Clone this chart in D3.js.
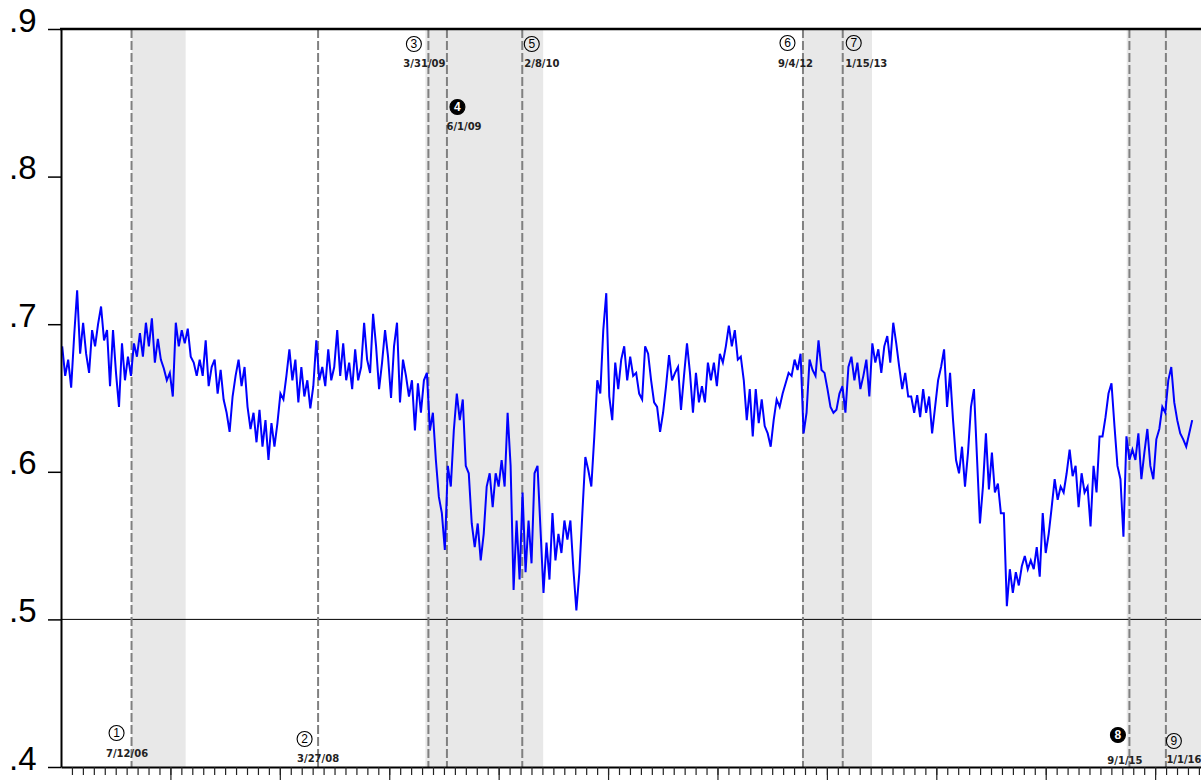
<!DOCTYPE html>
<html lang="en">
<head>
<meta charset="UTF-8">
<title>Daily series with event dates</title>
<script src="https://cdn.jsdelivr.net/npm/d3@7"></script>
<style>
  body { margin: 0; background: #fff; }
  svg { display: block; }
</style>
</head>
<body>
<script>
// series: one reading every 10 days from the first date
const firstDate = "2005-11-22";
const stepDays = 10;
const values = [
  .685,.665,.676,.657,.692,.723,.680,.701,.680,.667,
  .696,.685,.700,.712,.689,.696,.658,.696,.667,.644,
  .687,.662,.678,.665,.687,.678,.694,.678,.701,.685,
  .704,.674,.690,.676,.670,.662,.667,.651,.701,.685,
  .696,.687,.697,.678,.674,.665,.676,.665,.689,.658,
  .671,.676,.653,.669,.649,.640,.627,.651,.665,.676,
  .658,.671,.644,.629,.640,.620,.642,.617,.635,.608,
  .633,.617,.633,.653,.649,.665,.683,.662,.676,.647,
  .671,.651,.662,.643,.658,.689,.662,.671,.658,.683,
  .662,.671,.696,.665,
  .687,.662,.674,.656,.683,.662,.671,.701,.676,.667,
  .707,.685,.656,.674,.696,.678,.650,.685,.701,.647,
  .676,.665,.651,.662,.628,.660,.640,.662,.667,.628,
  .640,.608,.583,.572,.547,.604,.590,.628,.653,.635,
  .649,.604,.599,.565,.549,.565,.540,.558,.590,.599,
  .576,.599,.590,.608,.590,.640,.604,.520,.567,.527,
  .586,.532,.567,.538,.599,.604,.561,.518,.552,.527,
  .572,.540,.558,.545,.567,.554,.567,.534,.506,.532,
  .572,.610,.601,.590,.624,.662,.653,.696,.721,.651,
  .635,.674,.656,.676,
  .685,.662,.678,.665,.667,.653,.649,.685,.680,.662,
  .647,.644,.627,.640,.658,.679,.662,.667,.671,.642,
  .665,.687,.667,.640,.667,.647,.658,.647,.674,.662,
  .674,.658,.680,.674,.685,.699,.685,.696,.676,.678,
  .662,.635,.656,.624,.656,.633,.649,.631,.626,.617,
  .635,.649,.644,.653,.660,.667,.665,.676,.669,.680,
  .626,.640,.676,.669,.665,.689,.669,.667,.656,.644,
  .640,.642,.653,.658,.640,.671,.678,.662,.674,.656,
  .665,.676,.651,.687,.674,.683,.667,.685,.692,.674,
  .701,.687,.671,.656,.667,.651,
  .651,.640,.652,.637,.656,.640,.651,.626,.644,.662,
  .671,.683,.644,.667,.635,.608,.599,.617,.590,.613,
  .644,.656,.610,.565,.590,.626,.588,.613,.586,.592,
  .572,.572,.509,.534,.518,.532,.523,.536,.543,.534,
  .540,.534,.549,.529,.572,.545,.558,.576,.595,.581,
  .590,.586,.599,.615,.597,.604,.576,.599,.586,.590,
  .563,.604,.586,.624,.624,.637,.653,.660,.631,.604,
  .595,.556,.624,.608,.615,.608,.626,.595,.613,.629,
  .604,.595,.622,.629,.644,.640,.662,.671,.647,.635,
  .626,.622,.617,.626,.635
];

// numbered events
const eventDates = ["2006-07-12","2008-03-27","2009-03-31","2009-06-01","2010-02-08",
                    "2012-09-04","2013-01-15","2015-09-01","2016-01-01"];
const eventLabels = ["7/12/06","3/27/08","3/31/09","6/1/09","2/8/10","9/4/12","1/15/13","9/1/15","1/1/16"];
const eventNumbers = [1, 2, 3, 4, 5, 6, 7, 8, 9];
const eventFilled = [false, false, false, true, false, false, false, true, false];

// shaded periods
const shadeStarts = ["2006-07-12","2009-03-21","2012-09-01","2015-08-23"];
const shadeEnds   = ["2007-01-09","2010-04-19","2013-04-23","2016-06-30"];

const yTicks = [0.4, 0.5, 0.6, 0.7, 0.8, 0.9];
const refLevel = 0.5;

// x ticks: ten per year, a long one every tenth
const tickOrigin = "2005-11-18";
const tickStepDays = 36.6;

const w = 1201, h = 780;
const plotTop = 29, plotBottom = 767, plotLeft = 61;
const parse = d3.timeParse("%Y-%m-%d");
const dayMs = 864e5;

const x = d3.scaleTime()
  .domain([parse("2005-11-18"), parse("2016-06-30")])
  .range([plotLeft, 1220]);
const y = d3.scaleLinear().domain([0.4, 0.9]).range([plotBottom, plotTop]);

const start = parse(firstDate);
const series = values.map((v, i) => ({ date: new Date(+start + i * stepDays * dayMs), v }));

const svg = d3.select("body").append("svg")
  .attr("width", w)
  .attr("height", h);

// shading
svg.selectAll("rect.shade")
  .data(shadeStarts)
  .enter()
  .append("rect")
  .attr("class", "shade")
  .attr("x", d => x(parse(d)))
  .attr("y", plotTop)
  .attr("width", (d, i) => x(parse(shadeEnds[i])) - x(parse(d)))
  .attr("height", plotBottom - plotTop)
  .attr("fill", "#e8e8e8");

// reference line at .5
svg.append("line")
  .attr("x1", plotLeft).attr("x2", w)
  .attr("y1", y(refLevel)).attr("y2", y(refLevel))
  .attr("stroke", "#000")
  .attr("stroke-width", 1);

// event lines
svg.selectAll("line.event")
  .data(eventDates)
  .enter()
  .append("line")
  .attr("class", "event")
  .attr("x1", d => x(parse(d))).attr("x2", d => x(parse(d)))
  .attr("y1", plotTop).attr("y2", plotBottom)
  .attr("stroke", "#808080")
  .attr("stroke-width", 2)
  .attr("stroke-dasharray", "9,3");

// the series
const line = d3.line()
  .x(d => x(d.date))
  .y(d => y(d.v));

svg.append("path")
  .datum(series)
  .attr("d", line)
  .attr("fill", "none")
  .attr("stroke", "#0000ff")
  .attr("stroke-width", 2)
  .attr("stroke-linejoin", "miter");

// axes
const yAxis = d3.axisLeft(y)
  .tickValues(yTicks)
  .tickSize(13)
  .tickSizeOuter(0)
  .tickPadding(11.5)
  .tickFormat(d => d3.format(".1f")(d).replace(/^0/, ""));

const gy = svg.append("g")
  .attr("transform", `translate(${plotLeft},0)`)
  .call(yAxis);
gy.select(".domain").attr("stroke-width", 2);
gy.selectAll(".tick line").attr("stroke-width", 1.5);
gy.selectAll(".tick text")
  .attr("dy", 2)
  .attr("font-family", "'Liberation Sans', Arial, sans-serif")
  .attr("font-size", 33)
  .attr("fill", "#000");

const tickDates = d3.range(1, 106)
  .map(k => new Date(+parse(tickOrigin) + k * tickStepDays * dayMs))
  .filter(d => x(d) < w);

const xMinor = d3.axisBottom(x).tickValues(tickDates).tickSize(8).tickSizeOuter(0).tickFormat("");
const xMajor = d3.axisBottom(x)
  .tickValues(tickDates.filter((d, k) => (k + 1) % 10 === 0))
  .tickSize(14).tickSizeOuter(0).tickFormat("");

const gx = svg.append("g").attr("transform", `translate(0,${plotBottom})`).call(xMinor);
gx.select(".domain").attr("stroke-width", 2);
gx.selectAll(".tick line").attr("stroke", "#222").attr("stroke-width", 1.2);
const gx2 = svg.append("g").attr("transform", `translate(0,${plotBottom})`).call(xMajor);
gx2.select(".domain").remove();
gx2.selectAll(".tick line").attr("stroke", "#222").attr("stroke-width", 1.2);

// top frame line
svg.append("line")
  .attr("x1", plotLeft - 1).attr("x2", w)
  .attr("y1", plotTop).attr("y2", plotTop)
  .attr("stroke", "#000")
  .attr("stroke-width", 2.5);

// event labels: circle offset from the line, circle y, date offset, date y, anchor
const labelLayout = [
  { cx: -15,   cy: 733, tx: -4.5, ty: 757, anchor: "middle" },
  { cx: -13.5, cy: 739, tx: 0,    ty: 762, anchor: "middle" },
  { cx: -14.5, cy: 44,  tx: -4,   ty: 67,  anchor: "middle" },
  { cx: 10.5,  cy: 107, tx: -0.5, ty: 130, anchor: "start" },
  { cx: 9.5,   cy: 44,  tx: 2,    ty: 67,  anchor: "start" },
  { cx: -15.5, cy: 43,  tx: -7.5, ty: 67,  anchor: "middle" },
  { cx: 11,    cy: 43,  tx: 2.5,  ty: 67,  anchor: "start" },
  { cx: -11.5, cy: 735, tx: -4.5, ty: 764, anchor: "middle" },
  { cx: 8,     cy: 741, tx: 0.5,  ty: 763, anchor: "start" }
];

const labels = svg.selectAll("g.evlabel")
  .data(eventDates)
  .enter()
  .append("g")
  .attr("class", "evlabel")
  .attr("transform", d => `translate(${x(parse(d))},0)`);

labels.append("circle")
  .attr("cx", (d, i) => labelLayout[i].cx)
  .attr("cy", (d, i) => labelLayout[i].cy)
  .attr("r", 7.5)
  .attr("fill", (d, i) => eventFilled[i] ? "#000" : "none")
  .attr("stroke", "#000")
  .attr("stroke-width", 1.1);

labels.append("text")
  .attr("x", (d, i) => labelLayout[i].cx)
  .attr("y", (d, i) => labelLayout[i].cy)
  .attr("dy", "0.36em")
  .attr("text-anchor", "middle")
  .attr("font-family", "'Liberation Sans', Arial, sans-serif")
  .attr("font-size", 12)
  .attr("font-weight", (d, i) => eventFilled[i] ? "bold" : "normal")
  .attr("fill", (d, i) => eventFilled[i] ? "#fff" : "#000")
  .text((d, i) => eventNumbers[i]);

labels.append("text")
  .attr("x", (d, i) => labelLayout[i].tx)
  .attr("y", (d, i) => labelLayout[i].ty)
  .attr("text-anchor", (d, i) => labelLayout[i].anchor)
  .attr("font-family", "'DejaVu Sans', sans-serif")
  .attr("font-size", 10)
  .attr("font-weight", "bold")
  .attr("fill", "#222")
  .text((d, i) => eventLabels[i]);
</script>
</body>
</html>
